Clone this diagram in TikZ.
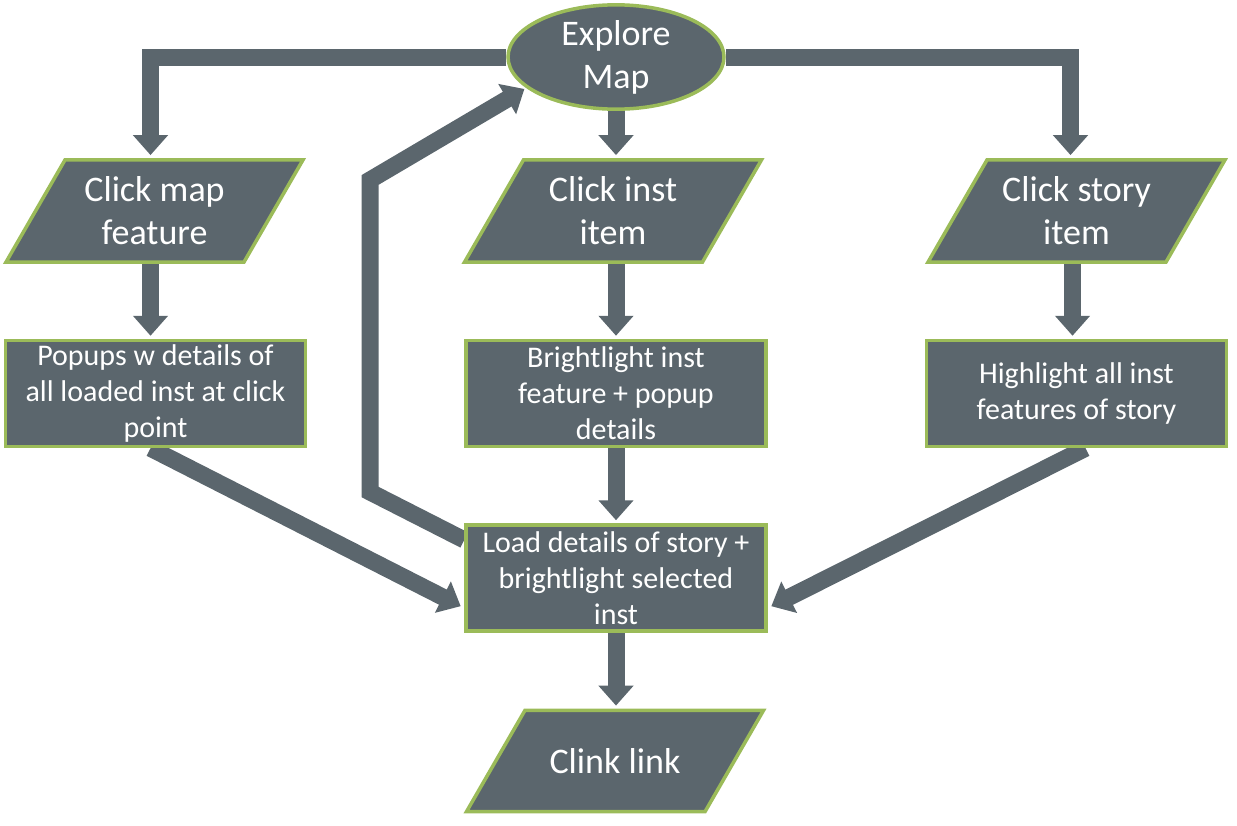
\documentclass[tikz,border=0pt]{standalone}
\usepackage{fontspec}
\setmainfont{Carlito}
\usetikzlibrary{shapes.geometric,arrows.meta,backgrounds}
\definecolor{slate}{RGB}{91,102,109}
\definecolor{leaf}{RGB}{155,187,89}

\begin{document}
\begin{tikzpicture}[x=1pt,y=-1pt,
  base/.style={draw=leaf,line width=3.5pt,fill=slate,text=white,align=center,inner sep=0pt},
  io/.style={base,trapezium,trapezium left angle=60,trapezium right angle=120,
    trapezium stretches body,minimum width=297pt,inner ysep=17pt,
    font=\fontsize{36}{43}\selectfont},
  proc/.style={base,rectangle,minimum width=300pt,minimum height=106pt,
    font=\fontsize{30}{36}\selectfont},
  flow/.style={draw=slate,line width=17pt,line join=miter,
    -{Triangle[width=34pt,length=20pt]}}]
\useasboundingbox (0,0) rectangle (1237,825);

\node[base,ellipse,minimum width=216pt,minimum height=102pt,font=\fontsize{36}{43}\selectfont]
  (explore) at (616,57) {Explore\\Map};

\node[io] (clickmap)   at (154.5,211) {Click map\\feature};
\node[io] (clickinst)  at (613,211)   {Click inst\\item};
\node[io] (clickstory) at (1076.5,211) {Click story\\item};

\node[proc] (popups)      at (155.5,393.5) {Popups w details of\\all loaded inst at click\\point};
\node[proc] (brightlight) at (616,393.5)   {Brightlight inst\\feature + popup\\details};
\node[proc] (highlight)   at (1076.5,393.5) {Highlight all inst\\features of story};

\node[proc] (load) at (616,578) {Load details of story +\\brightlight selected\\inst};
\node[io,inner ysep=38pt] (clink) at (615,761) {Clink link};

\coordinate (loopbot) at (370,492);
\coordinate (looptop) at (370,180);

\begin{scope}[on background layer]
\draw[flow,shorten >=3pt] (explore.west) -| ([xshift=-4pt]clickmap.north);
\draw[flow,shorten >=3pt] (explore.east) -| ([xshift=-6pt]clickstory.north);
\draw[flow,shorten >=3pt] (explore.south) -- (explore.south |- clickinst.north);
\draw[flow,shorten >=3pt] ([xshift=-4pt]clickmap.south) -- ([xshift=-4pt]clickmap.south |- popups.north);
\draw[flow,shorten >=3pt] ([xshift=3pt]clickinst.south) -- ([xshift=3pt]clickinst.south |- brightlight.north);
\draw[flow,shorten >=3pt] ([xshift=-4pt]clickstory.south) -- ([xshift=-4pt]clickstory.south |- highlight.north);
\draw[flow,shorten >=3pt] (brightlight.south) -- (load.north);
\draw[flow,shorten >=3pt] (load.south) -- (load.south |- clink.north);
\draw[flow,shorten >=4pt] ([xshift=-5pt]popups.south) -- ([yshift=-30pt]load.west);
\draw[flow,shorten >=4pt] ([xshift=9pt]highlight.south) -- ([yshift=-30pt]load.east);
\draw[flow,shorten >=2pt] ([yshift=38pt]load.west) -- (loopbot) -- (looptop) -- (explore.199);
\end{scope}
\end{tikzpicture}
\end{document}
